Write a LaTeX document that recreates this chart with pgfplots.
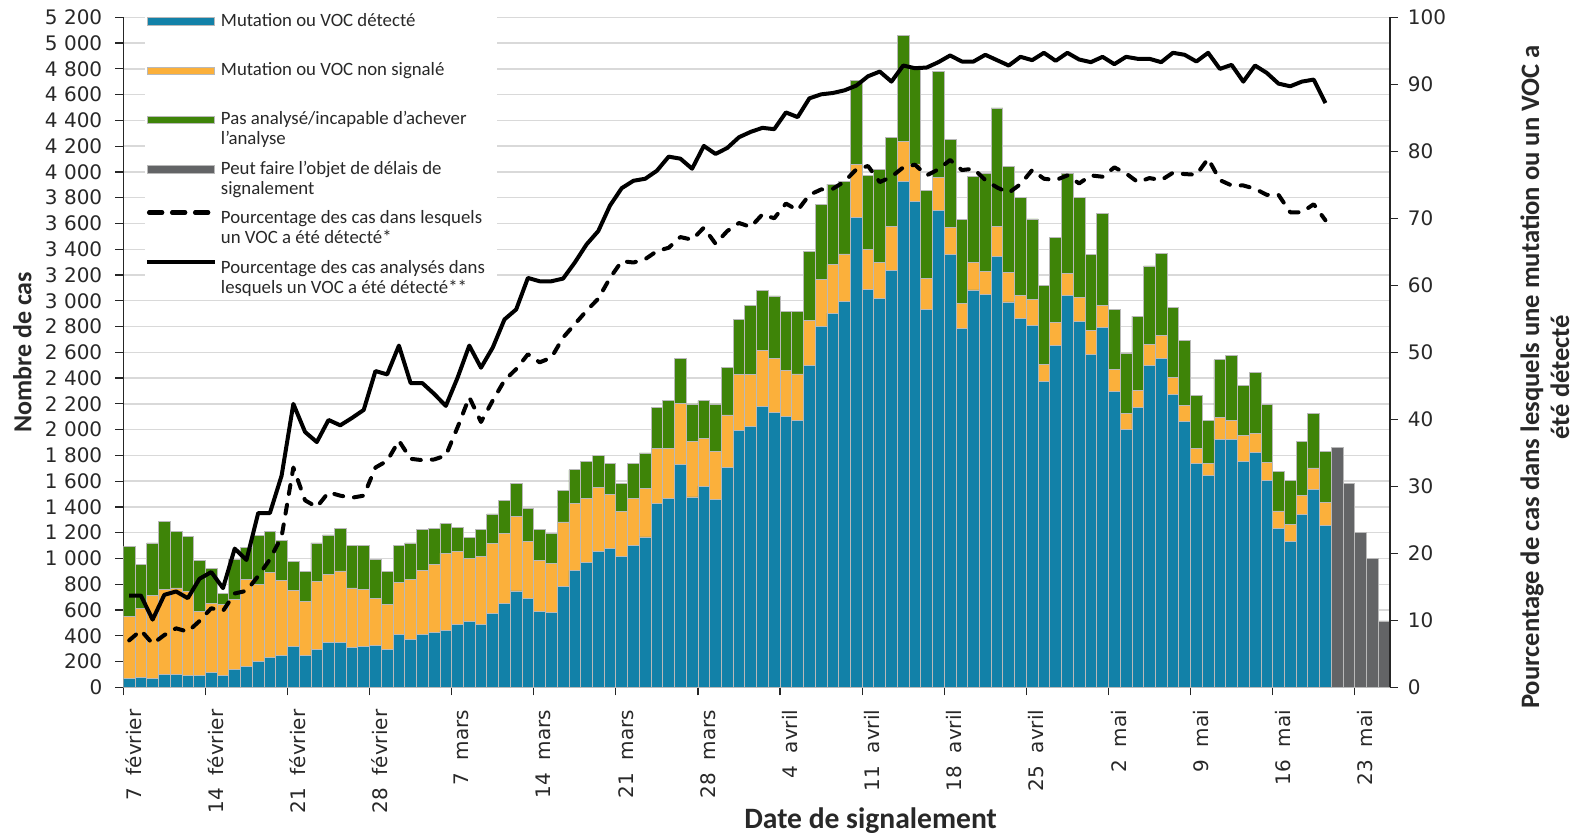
\documentclass[border=0pt]{standalone}
\usepackage{pgfplots}
\pgfplotsset{compat=1.18}
\usepackage{pgfplotstable}
\usepackage{fontspec}
\setmainfont{Carlito}
\newfontfamily\tickfont{DejaVu Sans}

\definecolor{cblue}{RGB}{18,129,168}
\definecolor{corange}{RGB}{251,176,59}
\definecolor{cgreen}{RGB}{62,132,8}
\definecolor{cgray}{RGB}{99,100,102}
\definecolor{cborder}{RGB}{185,185,185}
\definecolor{cgrid}{RGB}{217,217,217}
\definecolor{ctext}{RGB}{40,40,40}

\newcommand{\lgt}[2]{\parbox[t]{136pt}{\baselineskip=10pt\rule{0pt}{7.5pt}#1\\\rule[-2.5pt]{0pt}{2.5pt}#2}}

\pgfplotsset{
  legbar/.style={legend image code/.code={\draw[##1,draw=cborder,line width=0.4pt] (0pt,0.5pt) rectangle (33.5pt,4.2pt);}},
  legdash/.style={legend image code/.code={\draw[##1] (1.1pt,5.5pt) -- (33pt,5.5pt);}},
  legsolid/.style={legend image code/.code={\draw[##1] (0pt,5.5pt) -- (34pt,5.5pt);}},
}

\pgfplotstableread{
x b o g gr
0 70 482 542 0
1 77 534 344 0
2 67 648 405 0
3 103 658 526 0
4 103 668 439 0
5 93 653 428 0
6 95 491 399 0
7 113 537 271 0
8 95 550 83 0
9 139 542 310 0
10 160 676 248 0
11 201 596 382 0
12 230 658 322 0
13 250 581 309 0
14 315 438 225 0
15 245 418 235 0
16 294 529 297 0
17 348 527 307 0
18 348 555 328 0
19 307 464 328 0
20 315 446 338 0
21 323 366 304 0
22 297 348 253 0
23 410 403 286 0
24 374 465 281 0
25 410 498 315 0
26 423 529 284 0
27 440 602 227 0
28 490 565 188 0
29 508 491 167 0
30 485 532 209 0
31 573 542 230 0
32 650 547 253 0
33 748 581 253 0
34 689 444 253 0
35 590 396 240 0
36 580 380 232 0
37 784 499 245 0
38 908 521 259 0
39 967 501 287 0
40 1052 499 248 0
41 1076 418 246 0
42 1017 348 215 0
43 1102 366 272 0
44 1167 374 278 0
45 1425 426 322 0
46 1464 387 374 0
47 1729 475 351 0
48 1477 433 289 0
49 1562 366 297 0
50 1455 378 366 0
51 1703 411 369 0
52 1992 434 431 0
53 2025 406 531 0
54 2183 430 467 0
55 2133 419 485 0
56 2100 359 455 0
57 2074 358 482 0
58 2499 349 538 0
59 2801 362 585 0
60 2904 379 622 0
61 2997 366 565 0
62 3645 416 651 0
63 3090 310 571 0
64 3021 279 718 0
65 3233 343 691 0
66 3928 306 824 0
67 3772 290 758 0
68 2931 239 685 0
69 3702 252 824 0
70 3360 206 687 0
71 2785 196 648 0
72 3084 216 664 0
73 3047 183 758 0
74 3343 233 920 0
75 2991 232 821 0
76 2864 177 764 0
77 2811 196 628 0
78 2376 133 608 0
79 2652 179 661 0
80 3040 173 775 0
81 2838 186 781 0
82 2585 183 592 0
83 2791 173 715 0
84 2293 173 465 0
85 2000 127 468 0
86 2170 133 578 0
87 2499 159 612 0
88 2552 179 635 0
89 2276 127 544 0
90 2060 127 505 0
91 1735 119 412 0
92 1645 90 335 0
93 1927 167 448 0
94 1927 147 503 0
95 1751 203 389 0
96 1821 146 475 0
97 1605 140 448 0
98 1236 133 309 0
99 1130 133 339 0
100 1339 150 422 0
101 1535 167 425 0
102 1253 183 395 0
103 0 0 0 1861
104 0 0 0 1585
105 0 0 0 1203
106 0 0 0 997
107 0 0 0 515
}\bars

\pgfplotstableread{
x s d
0 13.7 7.0
1 13.7 8.5
2 10.1 6.5
3 13.8 7.8
4 14.3 8.8
5 13.3 8.3
6 16.2 9.9
7 17.2 11.8
8 14.8 11.4
9 20.7 14.0
10 19.0 14.4
11 26.0 16.6
12 26.0 19.1
13 31.6 22.5
14 42.3 32.8
15 38.1 27.9
16 36.6 26.9
17 39.9 29.1
18 39.1 28.6
19 40.2 28.3
20 41.4 28.6
21 47.2 32.8
22 46.7 33.8
23 51.0 36.8
24 45.4 34.1
25 45.4 33.9
26 43.8 34.0
27 42.0 34.6
28 46.2 38.8
29 51.0 43.3
30 47.7 39.6
31 50.7 42.8
32 54.9 45.8
33 56.4 47.5
34 61.1 49.7
35 60.6 48.5
36 60.6 49.2
37 61.0 52.2
38 63.4 54.2
39 66.1 56.2
40 68.1 58.0
41 71.9 61.1
42 74.5 63.6
43 75.6 63.4
44 75.9 63.9
45 77.1 65.1
46 79.2 65.6
47 78.9 67.2
48 77.4 66.8
49 80.8 68.6
50 79.6 66.2
51 80.5 68.1
52 82.1 69.3
53 82.9 68.7
54 83.5 70.6
55 83.3 70.0
56 85.8 72.2
57 85.1 71.2
58 87.9 73.5
59 88.5 74.3
60 88.7 74.4
61 89.1 75.5
62 89.8 77.3
63 91.2 77.8
64 91.9 75.4
65 90.4 76.2
66 92.8 77.6
67 92.4 78.0
68 92.5 76.4
69 93.3 77.3
70 94.3 78.7
71 93.4 77.2
72 93.4 77.4
73 94.4 75.7
74 93.6 74.6
75 92.8 73.8
76 94.1 75.1
77 93.6 77.2
78 94.7 75.9
79 93.5 75.7
80 94.7 76.4
81 93.7 75.2
82 93.3 76.4
83 94.1 76.2
84 93.0 77.6
85 94.1 76.7
86 93.8 75.4
87 93.8 76.0
88 93.3 75.7
89 94.7 76.8
90 94.4 76.6
91 93.4 76.5
92 94.7 78.9
93 92.3 75.7
94 92.9 74.9
95 90.4 74.9
96 92.8 74.4
97 91.7 73.5
98 90.1 73.5
99 89.7 70.9
100 90.4 70.9
101 90.7 72.1
102 87.2 69.7
}\lines

\begin{document}
\begin{tikzpicture}
\useasboundingbox (-61.65pt,-72.85pt) rectangle (727.35pt,343.65pt);
\begin{axis}[
  at={(0pt,0pt)}, anchor=south west,
  scale only axis, width=633.3pt, height=335pt,
  xmin=-0.5, xmax=107.5, ymin=0, ymax=5200,
  axis x line*=bottom, axis y line*=left,
  axis line style={line width=0.75pt, color=black!85},
  ybar stacked, bar width=1,
  ytick={0,200,...,5200},
  xtick={-0.5,6.5,...,104.5},
  xticklabels={7~~février,14~~février,21~~février,28~~février,7~~mars,14~~mars,21~~mars,28~~mars,4~~avril,11~~avril,18~~avril,25~~avril,2~~mai,9~~mai,16~~mai,23~~mai},
  tick align=outside, major tick length=4pt,
  tick style={line width=0.6pt, black!85},
  ymajorgrids, major grid style={line width=0.7pt, cgrid},
  ticklabel style={font=\tickfont\fontsize{10}{11}\selectfont, text=ctext},
  /pgf/number format/assume math mode=true,
  /pgf/number format/1000 sep={\ },
  scaled y ticks=false,
  yticklabel shift=3pt,
  xticklabel style={rotate=90, anchor=north east, inner sep=1pt},
  xticklabel shift=6pt,
  xlabel={Date de signalement},
  xlabel style={at={(rel axis cs:0.59,-0.1985)}, anchor=center, font=\bfseries\fontsize{14.8}{16}\selectfont, text=ctext},
  ylabel={Nombre de cas},
  ylabel style={at={(rel axis cs:-0.0797,0.5)}, anchor=center, font=\bfseries\fontsize{13}{15}\selectfont, text=ctext},
  legend style={at={(rel axis cs:0.0171,1.0153)}, anchor=north west, draw=none, fill=white, inner sep=0pt, outer sep=0pt, row sep=11.7pt, column sep=0pt, cells={anchor=base west, inner xsep=3.5pt, inner ysep=0pt}, font=\fontsize{9.4}{10}\selectfont, text=ctext},
]
\addplot[fill=cblue, draw=cborder, line width=0.4pt, legbar] table[x=x,y=b]{\bars};
\addlegendentry{\lgt{Mutation ou VOC détecté}{}}
\addplot[fill=corange, draw=cborder, line width=0.4pt, legbar] table[x=x,y=o]{\bars};
\addlegendentry{\lgt{Mutation ou VOC non signalé}{}}
\addplot[fill=cgreen, draw=cborder, line width=0.4pt, legbar] table[x=x,y=g]{\bars};
\addlegendentry{\lgt{Pas analysé/incapable d’achever}{l’analyse}}
\addplot[fill=cgray, draw=cborder, line width=0.4pt, legbar] table[x=x,y=gr]{\bars};
\addlegendentry{\lgt{Peut faire l’objet de délais de}{signalement}}
\addlegendimage{black, line width=2.2pt, dash pattern=on 6.5pt off 5pt, line cap=round, legdash}
\addlegendentry{\lgt{Pourcentage des cas dans lesquels}{un VOC a été détecté*}}
\addlegendimage{black, line width=2pt, legsolid}
\addlegendentry{\lgt{Pourcentage des cas analysés dans}{lesquels un VOC a été détecté**}}
\end{axis}
\begin{axis}[
  at={(0pt,0pt)}, anchor=south west,
  scale only axis, width=633.3pt, height=335pt,
  xmin=-0.5, xmax=107.5, ymin=0, ymax=100,
  axis x line=none, axis y line*=right,
  axis line style={line width=0.75pt, color=black!85},
  ytick={0,10,...,100},
  tick align=outside, major tick length=4pt,
  tick style={line width=0.6pt, black!85},
  ticklabel style={font=\tickfont\fontsize{10}{11}\selectfont, text=ctext},
  /pgf/number format/assume math mode=true,
  yticklabel shift=1.5pt,
  ylabel={Pourcentage de cas dans lesquels une mutation ou un VOC a\\été détecté},
  ylabel style={at={(rel axis cs:1.1224,0.463)}, anchor=center, align=center, font=\bfseries\fontsize{13.3}{15}\selectfont, text=ctext},
]
\addplot[black, line width=2pt, dash pattern=on 4.5pt off 5.5pt, line cap=round, line join=round] table[x=x,y=d]{\lines};
\addplot[black, line width=2pt, line join=round] table[x=x,y=s]{\lines};
\end{axis}
\end{tikzpicture}
\end{document}
